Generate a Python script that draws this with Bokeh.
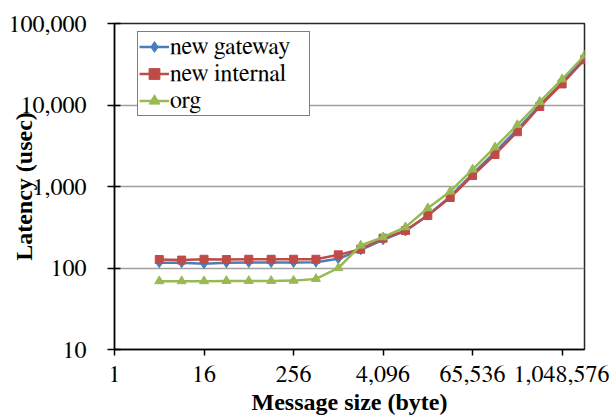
from bokeh.plotting import figure
from bokeh.models import FixedTicker, NumeralTickFormatter, Legend, LegendItem
from bokeh.embed import file_html
from bokeh.resources import INLINE

# Message sizes (bytes)
sizes = [4, 8, 16, 32, 64, 128, 256, 512, 1024, 2048, 4096, 8192, 16384,
         32768, 65536, 131072, 262144, 524288, 1048576, 2097152]

# Latency (usec)
gateway = [116, 116, 113, 116, 117, 117, 117, 118, 130, 167, 222, 285, 445,
           754, 1430, 2640, 5030, 9900, 18850, 38000]
internal = [127, 125, 128, 127, 128, 128, 128, 128, 145, 170, 232, 288, 440,
            733, 1365, 2470, 4700, 9590, 18150, 35900]
org = [69, 69, 69, 69.5, 69.5, 69.5, 70, 73.5, 100, 189, 239, 317, 542,
       868, 1620, 3030, 5690, 10940, 20700, 40500]

x_ticks = [1, 16, 256, 4096, 65536, 1048576]
y_ticks = [10, 100, 1000, 10000, 100000]

FONT_BOLD = "Liberation Serif"
FONT = "FreeSerif"

p = figure(width=609, height=418, x_axis_type="log", y_axis_type="log",
           x_range=(1, 2097152), y_range=(10, 100000),
           output_backend="svg", toolbar_location=None,
           min_border_left=114, min_border_right=25,
           min_border_top=23, min_border_bottom=69)

p.background_fill_color = "white"
p.border_fill_color = "white"
p.outline_line_color = "#262626"
p.outline_line_width = 1.5

# grid
p.xgrid.grid_line_color = None
p.ygrid.grid_line_color = "#a0a0a0"
p.ygrid.grid_line_width = 1.5
p.ygrid.ticker = FixedTicker(ticks=y_ticks, minor_ticks=[])

# axes
for ax in (p.xaxis[0], p.yaxis[0]):
    ax.formatter = NumeralTickFormatter(format="0,0")
    ax.axis_line_color = "black"
    ax.axis_line_width = 1.5
    ax.major_tick_line_color = "black"
    ax.major_tick_line_width = 1.5
    ax.minor_tick_line_color = None
    ax.major_label_text_font = FONT
    ax.major_label_text_font_size = "24px"
    ax.major_label_text_color = "black"
    ax.axis_label_text_font = FONT_BOLD
    ax.axis_label_text_font_size = "24px"
    ax.axis_label_text_font_style = "bold"
    ax.axis_label_text_color = "black"

p.xaxis[0].ticker = FixedTicker(ticks=x_ticks, minor_ticks=[])
p.yaxis[0].ticker = FixedTicker(ticks=y_ticks, minor_ticks=[])

p.xaxis.axis_label = "Message size (byte)"
p.xaxis.major_tick_in = 0
p.xaxis.major_tick_out = 6
p.xaxis.major_label_standoff = 10
p.xaxis.axis_label_standoff = 4

p.yaxis.axis_label = "Latency (usec)"
p.yaxis.major_tick_in = 6
p.yaxis.major_tick_out = 7
p.yaxis.major_label_standoff = 21
p.yaxis.axis_label_standoff = -31

# series
blue = "#4A7EBB"
red = "#BE4B48"
green = "#98B954"

l1 = p.line(sizes, gateway, line_color=blue, line_width=2.5)
m1 = p.scatter(sizes, gateway, marker="diamond", size=10, fill_color=blue, line_color=blue)
l2 = p.line(sizes, internal, line_color=red, line_width=2.5)
m2 = p.scatter(sizes, internal, marker="square", size=8, fill_color=red, line_color=red)
l3 = p.line(sizes, org, line_color=green, line_width=2.5)
m3 = p.scatter(sizes, org, marker="triangle", size=9, fill_color=green, line_color=green)

legend = Legend(items=[
    LegendItem(label="new gateway", renderers=[l1, m1]),
    LegendItem(label="new internal", renderers=[l2, m2]),
    LegendItem(label="org", renderers=[l3, m3]),
], location=(23, 233))
legend.label_text_font = FONT
legend.label_text_font_size = "24px"
legend.label_text_color = "black"
legend.border_line_color = "black"
legend.border_line_width = 1
legend.background_fill_color = "white"
legend.background_fill_alpha = 1
legend.padding = 1
legend.spacing = 0
legend.margin = 0
legend.glyph_width = 30
legend.glyph_height = 27
legend.label_height = 27
legend.label_width = 138
legend.label_standoff = 1
p.add_layout(legend)

open("out.html", "w").write(file_html(p, INLINE))
